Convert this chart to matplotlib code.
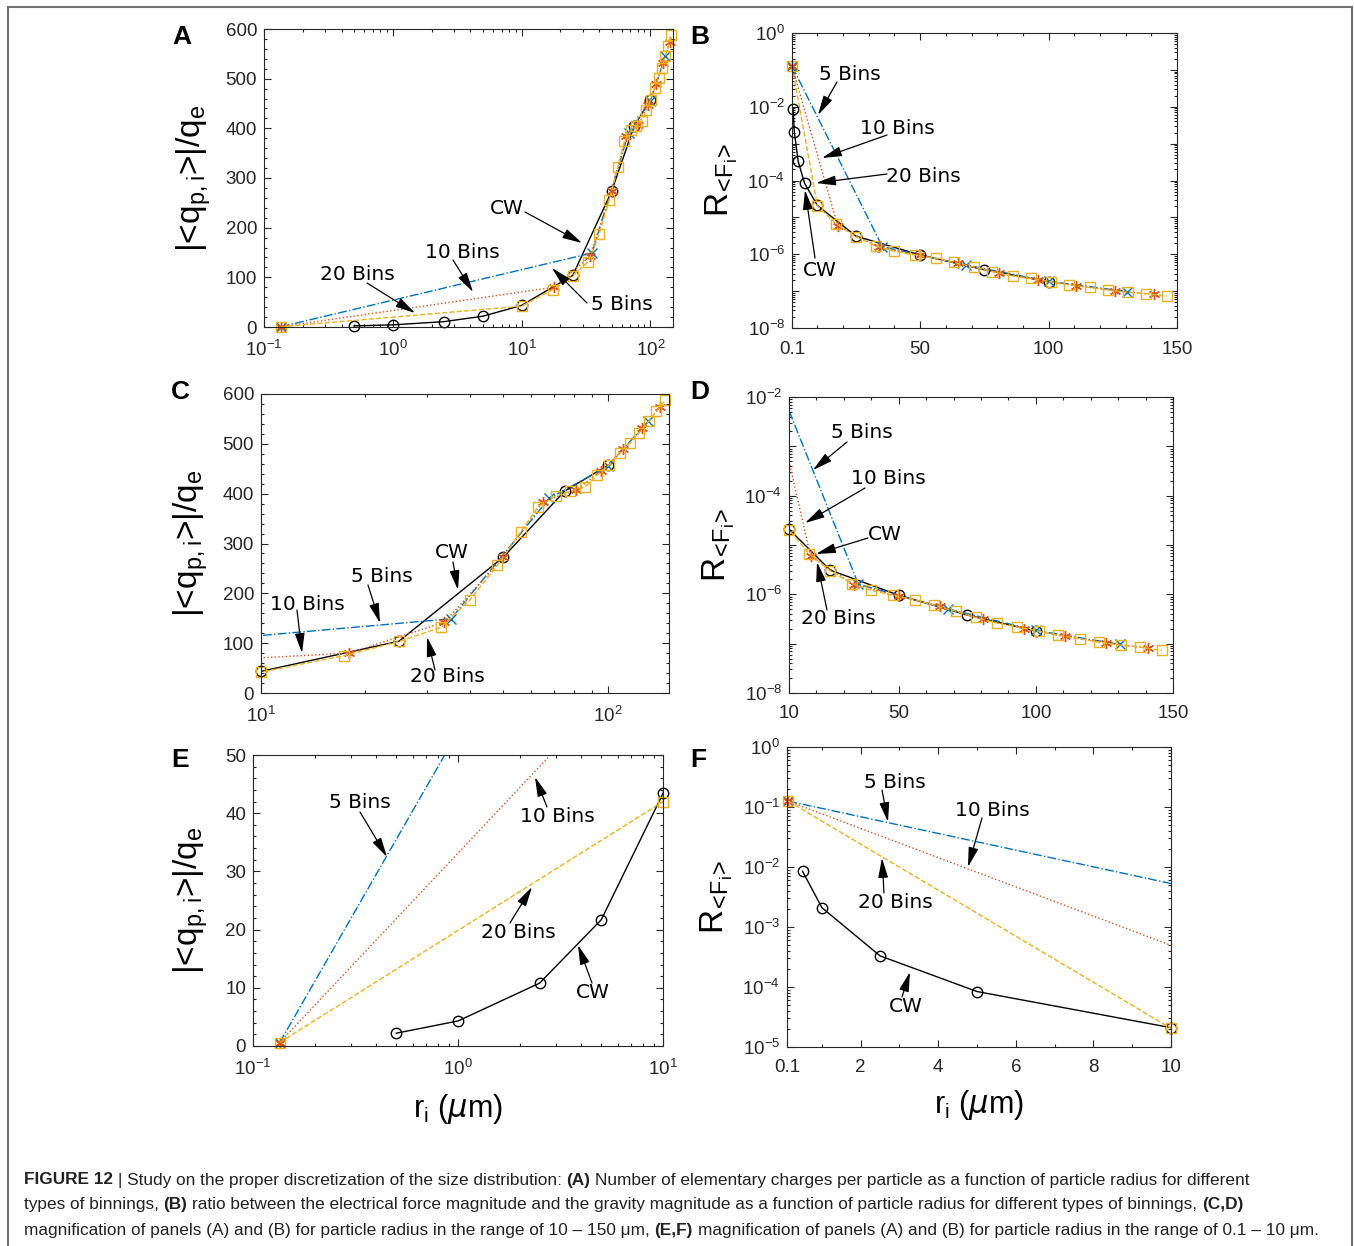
import numpy as np
import matplotlib
matplotlib.use('Agg')
import matplotlib.pyplot as plt
import matplotlib.ticker as tkr
from matplotlib.lines import Line2D
from matplotlib.patches import FancyArrowPatch

# ---- data ----
x_cw = [0.5, 1, 2.5, 5, 10, 25, 50, 75, 100]
q_cw = [2.2, 4.3, 10.8, 21.7, 43.4, 104, 273, 405, 457]
R_cw = [8.5e-3, 2.1e-3, 3.3e-4, 8.4e-5, 2.1e-5, 3.1e-6, 9.6e-7, 3.8e-7, 1.8e-7]

x_5 = [0.135, 35.3, 67.8, 100, 130.6]
q_5 = [0.6, 149, 391, 455, 545]
R_5 = [0.125, 1.6e-6, 5.1e-7, 1.85e-7, 9.7e-8]

x_10 = [0.135, 17.9, 33.8, 50, 64.9, 80.8, 95.8, 110.8, 125.7, 141]
q_10 = [0.6, 80, 142, 273, 384, 407, 446, 489, 531, 573]
R_10 = [0.125, 5.9e-6, 1.55e-6, 9.3e-7, 5.7e-7, 3.1e-7, 2.0e-7, 1.4e-7, 1.03e-7, 8.1e-8]

x_20 = [0.135, 10, 17.4, 25, 33, 40, 48, 56, 63, 71, 78, 86, 93, 101, 108,
        116, 123, 131, 138, 146]
q_20 = [0.6, 42, 75, 103.5, 131.6, 187, 256, 323, 374, 396, 405, 414, 437,
        458, 481, 502, 522, 545, 565, 587]
R_20 = [0.125, 2.05e-5, 6.6e-6, 3.0e-6, 1.65e-6, 1.2e-6, 9.5e-7, 7.8e-7,
        6.0e-7, 4.5e-7, 3.4e-7, 2.6e-7, 2.2e-7, 1.78e-7, 1.48e-7, 1.26e-7,
        1.07e-7, 9.3e-8, 8.5e-8, 7.3e-8]

W, H = 1354, 1246
plt.rcParams['font.family'] = ['Liberation Sans', 'DejaVu Sans']
plt.rcParams['mathtext.default'] = 'regular'

blue, orange, yellow = '#0072BD', '#D95319', '#EDB120'
dark = '#262626'
series = [
    (x_cw, q_cw, R_cw, 'k', '-', 'o', 7.5),
    (x_5, q_5, R_5, blue, '-.', 'x', 6.5),
    (x_10, q_10, R_10, orange, ':', (6, 2, 0), 8),
    (x_20, q_20, R_20, yellow, '--', 's', 7),
]

fig = plt.figure(figsize=(W / 100, H / 100), dpi=100)


def px_axes(l, t, r, b):
    return fig.add_axes([l / W, 1 - b / H, (r - l) / W, (b - t) / H])


def draw(ax, which, xlim, ylim):
    for x, q, r, c, ls, m, ms in series:
        x = np.array(x)
        y = np.array(q if which == 'q' else r)
        ax.plot(x, y, color=c, ls=ls, lw=1)
        keep = (x >= xlim[0]) & (x <= xlim[1]) & (y >= ylim[0]) & (y <= ylim[1])
        ax.plot(x[keep], y[keep], ls='none', marker=m, mec=c, mfc='none',
                ms=ms, mew=1, clip_on=False)
    ax.set_xlim(xlim)
    ax.set_ylim(ylim)


def style(ax):
    ax.tick_params(which='both', direction='in', top=True, right=True,
                   colors=dark, labelsize=13.5, width=0.8)
    ax.tick_params(which='major', length=5)
    ax.tick_params(which='minor', length=2.5)
    ax.tick_params(axis='x', pad=9)
    ax.tick_params(axis='y', pad=5)
    for s in ax.spines.values():
        s.set_color(dark)
        s.set_linewidth(0.8)


def log_y(ax, lo, hi, step):
    ax.set_yscale('log')
    ax.set_yticks(10.0 ** np.arange(lo, hi + 1))
    ax.yaxis.set_major_formatter(tkr.FuncFormatter(
        lambda v, p: r'$\mathdefault{10^{%d}}$' % round(np.log10(v))
        if round(np.log10(v)) % step == 0 else ''))
    ax.yaxis.set_minor_locator(tkr.LogLocator(base=10, subs=np.arange(2, 10), numticks=40))
    ax.yaxis.set_minor_formatter(tkr.NullFormatter())


def log_x(ax):
    ax.set_xscale('log')
    ax.xaxis.set_minor_formatter(tkr.NullFormatter())


qlabel = r'$|$<$q_{p,i}$>$|/q_e$'
Rlabel = r'$R_{\!<\!F_i\!>}$'
rlabel = r'$r_i$ ($\mathit{\mu}$m)'

# panel A
axA = px_axes(264, 29, 673, 327)
draw(axA, 'q', (0.1, 150), (0, 600))
log_x(axA)
axA.yaxis.set_major_locator(tkr.MultipleLocator(100))
axA.yaxis.set_minor_locator(tkr.MultipleLocator(20))
axA.set_ylabel(qlabel, fontsize=24)
axA.yaxis.set_label_coords(-0.125, 0.5)

# panel B
axB = px_axes(792, 33, 1177, 328)
draw(axB, 'R', (0.1, 150), (1e-8, 1))
log_y(axB, -8, 0, 2)
axB.set_xticks([0.1, 50, 100, 150])
axB.set_xticklabels(['0.1', '50', '100', '150'])
axB.xaxis.set_minor_locator(tkr.MultipleLocator(10))
axB.set_ylabel(Rlabel, fontsize=24)
axB.yaxis.set_label_coords(-0.135, 0.5)

# panel C
axC = px_axes(261, 394, 669, 693)
draw(axC, 'q', (10, 150), (0, 600))
log_x(axC)
axC.yaxis.set_major_locator(tkr.MultipleLocator(100))
axC.yaxis.set_minor_locator(tkr.MultipleLocator(20))
axC.set_ylabel(qlabel, fontsize=24)
axC.yaxis.set_label_coords(-0.125, 0.5)

# panel D
axD = px_axes(789, 397, 1173, 693)
draw(axD, 'R', (10, 150), (1e-8, 1e-2))
log_y(axD, -8, -2, 2)
axD.set_xticks([10, 50, 100, 150])
axD.xaxis.set_minor_locator(tkr.MultipleLocator(10))
axD.set_ylabel(Rlabel, fontsize=24)
axD.yaxis.set_label_coords(-0.135, 0.5)

# panel E
axE = px_axes(253, 755, 663, 1046)
draw(axE, 'q', (0.1, 10), (0, 50))
log_x(axE)
axE.yaxis.set_major_locator(tkr.MultipleLocator(10))
axE.yaxis.set_minor_locator(tkr.MultipleLocator(2))
axE.set_ylabel(qlabel, fontsize=24)
axE.yaxis.set_label_coords(-0.105, 0.5)
axE.set_xlabel(rlabel, fontsize=22, labelpad=10)

# panel F
axF = px_axes(787, 747, 1171, 1047)
draw(axF, 'R', (0.1, 10), (1e-5, 1))
log_y(axF, -5, 0, 1)
axF.set_xticks([0.1, 2, 4, 6, 8, 10])
axF.set_xticklabels(['0.1', '2', '4', '6', '8', '10'])
axF.xaxis.set_minor_locator(tkr.MultipleLocator(1))
axF.set_ylabel(Rlabel, fontsize=24)
axF.yaxis.set_label_coords(-0.135, 0.5)
axF.set_xlabel(rlabel, fontsize=22, labelpad=8)

for ax in (axA, axB, axC, axD, axE, axF):
    style(ax)

# panel letters
for s, (px, py) in zip('ABCDEF', [(182, 37), (700, 37), (180, 392),
                                 (700, 392), (180, 760), (698, 760)]):
    fig.text(px / W, 1 - py / H, s, fontsize=19, fontweight='bold',
             ha='center', va='center')

# text arrows: label, text centre, arrow tail, arrow tip (figure pixels)
notes = [
    ('CW', (507, 208), (525, 212), (582, 243)),
    ('10 Bins', (462, 252), (453, 260), (473, 292)),
    ('20 Bins', (357, 274), (367, 283), (415, 313)),
    ('5 Bins', (622, 305), (587, 303), (552, 268)),
    ('5 Bins', (850, 74), (837, 82), (818, 115)),
    ('10 Bins', (897, 128), (887, 135), (822, 158)),
    ('20 Bins', (923, 176), (887, 174), (816, 183)),
    ('CW', (820, 270), (815, 258), (805, 190)),
    ('CW', (452, 552), (453, 562), (458, 590)),
    ('5 Bins', (382, 577), (368, 585), (380, 623)),
    ('10 Bins', (307, 605), (297, 610), (302, 653)),
    ('20 Bins', (447, 677), (435, 670), (427, 637)),
    ('5 Bins', (862, 433), (847, 442), (813, 470)),
    ('10 Bins', (888, 479), (865, 488), (805, 523)),
    ('CW', (885, 534), (868, 538), (816, 554)),
    ('20 Bins', (838, 619), (827, 610), (817, 562)),
    ('5 Bins', (360, 802), (360, 812), (387, 857)),
    ('10 Bins', (557, 816), (547, 807), (535, 777)),
    ('20 Bins', (518, 933), (510, 923), (532, 887)),
    ('CW', (593, 993), (592, 983), (578, 945)),
    ('5 Bins', (895, 782), (882, 790), (888, 822)),
    ('10 Bins', (992, 810), (982, 818), (968, 867)),
    ('20 Bins', (895, 903), (884, 893), (882, 858)),
    ('CW', (906, 1007), (902, 997), (910, 972)),
]
for label, tc, tail, tip in notes:
    fig.text(tc[0] / W, 1 - tc[1] / H, label, fontsize=14.5,
             family='DejaVu Sans', ha='center', va='center')
    fig.add_artist(FancyArrowPatch(
        (tail[0] / W, 1 - tail[1] / H), (tip[0] / W, 1 - tip[1] / H),
        transform=fig.transFigure,
        arrowstyle='-|>,head_length=0.8,head_width=0.2',
        mutation_scale=15, color='k', lw=0.9, shrinkA=0, shrinkB=0, zorder=5))

# frame around the figure
for xs, ys in [([8, 1352], [7, 7]), ([8, 8], [7, H]), ([1352, 1352], [7, H])]:
    fig.add_artist(Line2D([v / W for v in xs], [1 - v / H for v in ys],
                          transform=fig.transFigure, color='#707070', lw=1.5))

# caption
cap_font = ['Liberation Sans Narrow', 'Liberation Sans']
cap_lines = [
    [('FIGURE 12', True), (' | Study on the proper discretization of the size distribution: ', False),
     ('(A)', True), (' Number of elementary charges per particle as a function of particle radius for different', False)],
    [('types of binnings, ', False), ('(B)', True),
     (' ratio between the electrical force magnitude and the gravity magnitude as a function of particle radius for different types of binnings, ', False),
     ('(C,D)', True)],
    [('magnification of panels (A) and (B) for particle radius in the range of 10 \u2013 150 \u03bcm, ', False),
     ('(E,F)', True),
     (' magnification of panels (A) and (B) for particle radius in the range of 0.1 \u2013 10 \u03bcm.', False)],
]
rend = fig.canvas.get_renderer()


def put_line(parts, x0, y, size, draw_it=True):
    x = x0
    for s, bold in parts:
        w = 'bold' if bold else 'normal'
        a = fig.text(0, 0, 'x x', fontsize=size, family=cap_font, fontweight=w)
        b = fig.text(0, 0, 'xx', fontsize=size, family=cap_font, fontweight=w)
        sp = a.get_window_extent(rend).width - b.get_window_extent(rend).width
        a.remove()
        b.remove()
        if s.startswith(' '):
            x += sp
        t = fig.text(x / W, 1 - y / H, s.strip(), fontsize=size, family=cap_font,
                     fontweight=w, ha='left', va='center', color='#222222')
        x += t.get_window_extent(rend).width
        if not draw_it:
            t.remove()
        if s.endswith(' '):
            x += sp
    return x - x0


w3 = put_line(cap_lines[2], 24, 1230, 12, draw_it=False)
cap_size = 12 * (1322 - 24) / w3
for parts, y in zip(cap_lines, [1180, 1205, 1230]):
    put_line(parts, 24, y, cap_size)

fig.savefig('out.png', dpi=100)
